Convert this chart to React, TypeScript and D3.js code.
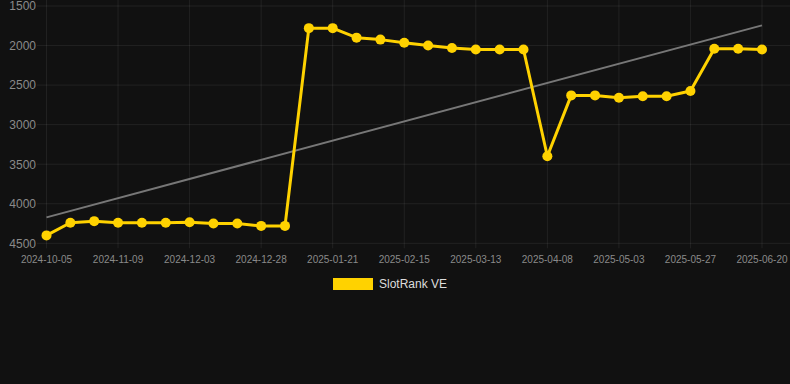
import React from "react";
import * as d3 from "d3";

const dates = [
  "2024-10-05", "2024-10-17", "2024-10-28", "2024-11-09", "2024-11-17", "2024-11-25",
  "2024-12-03", "2024-12-11", "2024-12-19", "2024-12-28", "2025-01-05", "2025-01-13",
  "2025-01-21", "2025-01-29", "2025-02-07", "2025-02-15", "2025-02-23", "2025-03-05",
  "2025-03-13", "2025-03-21", "2025-03-30", "2025-04-08", "2025-04-16", "2025-04-24",
  "2025-05-03", "2025-05-11", "2025-05-19", "2025-05-27", "2025-06-04", "2025-06-12",
  "2025-06-20",
];
const ranks = [
  4400, 4240, 4220, 4240, 4240, 4240, 4235, 4250, 4250, 4280, 4280,
  1780, 1780, 1900, 1925, 1965, 2000, 2030, 2050, 2050, 2050,
  3400, 2630, 2630, 2660, 2640, 2640, 2575, 2040, 2040, 2050,
];
const yTicks = [1500, 2000, 2500, 3000, 3500, 4000, 4500];
const seriesName = "SlotRank VE";

const W = 790;
const H = 384;

export default function App() {
  const x = d3.scalePoint<number>().domain(d3.range(ranks.length)).range([46.5, 762]);
  const y = d3.scaleLinear().domain([1500, 4500]).range([6, 243.3]);

  const n = ranks.length;
  const mx = d3.mean(d3.range(n)) as number;
  const my = d3.mean(ranks) as number;
  let sxy = 0, sxx = 0;
  ranks.forEach((v, i) => { sxy += (i - mx) * (v - my); sxx += (i - mx) * (i - mx); });
  const slope = sxy / sxx;
  const b = my - slope * mx;

  const line = d3.line<number>().x((_, i) => x(i) as number).y((v) => y(v));
  const labelIdx = d3.range(0, n, 3);
  const gridColor = "rgba(255,255,255,0.07)";

  return (
    <svg width={W} height={H} style={{ position: "absolute", left: 0, top: 0, background: "#111111" }}
      fontFamily="Helvetica, Arial, 'Liberation Sans', sans-serif">
      <rect width={W} height={H} fill="#111111" />
      {yTicks.map((t) => (
        <g key={t}>
          <line x1={37} x2={W} y1={y(t)} y2={y(t)} stroke={gridColor} strokeWidth={1} />
          <text x={36} y={y(t)} dy="0.36em" textAnchor="end" fontSize={12} fill="#8a8a8a">{t}</text>
        </g>
      ))}
      {labelIdx.map((i) => (
        <g key={i}>
          <line x1={x(i)} x2={x(i)} y1={0} y2={y(4500) + 5} stroke={gridColor} strokeWidth={1} />
          <text x={x(i)} y={259} dy="0.35em" textAnchor="middle" fontSize={10} fill="#8a8a8a">{dates[i]}</text>
        </g>
      ))}
      <line x1={x(0)} x2={x(n - 1)} y1={y(b)} y2={y(b + slope * (n - 1))} stroke="#777777" strokeWidth={2} />
      <path d={line(ranks) as string} fill="none" stroke="#FFD200" strokeWidth={3} strokeLinejoin="round" />
      {ranks.map((v, i) => (
        <circle key={i} cx={x(i)} cy={y(v)} r={5} fill="#FFD200" />
      ))}
      <rect x={333} y={278} width={40} height={12} fill="#FFD200" />
      <text x={379} y={284} dy="0.35em" fontSize={12} fill="#dddddd">{seriesName}</text>
    </svg>
  );
}
